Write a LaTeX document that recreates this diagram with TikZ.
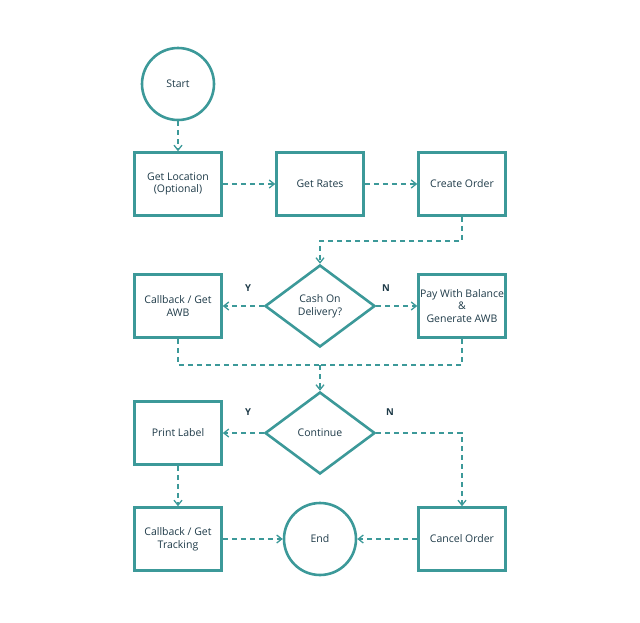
\documentclass[tikz,border=0pt]{standalone}
\usepackage{fontspec}
\setmainfont{Open Sans}
\usepackage{tikz}
\usetikzlibrary{arrows.meta,shapes.geometric}
\definecolor{teal1}{HTML}{3C9999}
\definecolor{ink}{HTML}{1E3A48}
\begin{document}
\begin{tikzpicture}[x=1pt,y=-1pt,thick,
                      box/.style={draw=teal1,line width=2.6pt,minimum width=87pt,minimum height=63pt,inner sep=1pt,align=center,font=\fontsize{10.5}{12.8}\selectfont,text=ink},
                      term/.style={circle,draw=teal1,line width=2.6pt,minimum size=72pt,font=\fontsize{10.5}{12.8}\selectfont,text=ink},
                      dec/.style={diamond,draw=teal1,line width=2.6pt,minimum width=110pt,minimum height=82pt,aspect=1.34,inner sep=0pt,align=center,font=\fontsize{10.5}{12.8}\selectfont,text=ink},
                      flow/.style={draw=teal1,line width=1.3pt,dash pattern=on 5pt off 4pt,-{Straight Barb[length=5pt,width=8pt]}},
                      lbl/.style={font=\fontsize{9.5}{11}\selectfont\bfseries,text=ink}]
    \useasboundingbox (0,0) rectangle (640,622);

    \node[term] (start) at (178,84) {Start};
    \node[box] (loc) at (178,184) {Get Location\\(Optional)};
    \node[box] (rates) at (320,184) {Get Rates};
    \node[box] (order) at (462,184) {Create Order};
    \node[box] (awb) at (178,306) {Callback / Get\\AWB};
    \node[dec] (cod) at (320,306) {Cash On\\Delivery?};
    \node[box] (pay) at (462,306) {Pay With Balance\\\&\\Generate AWB};
    \node[box] (print) at (178,433) {Print Label};
    \node[dec] (cont) at (320,433) {Continue};
    \node[box] (track) at (178,539) {Callback / Get\\Tracking};
    \node[term] (end) at (320,539) {End};
    \node[box] (cancel) at (462,539) {Cancel Order};
    \coordinate (m1) at (320,241);
    \coordinate (m2) at (320,365);

    \draw[flow] (start) -- (loc);
    \draw[flow] (loc) -- (rates);
    \draw[flow] (rates) -- (order);
    \draw[flow] (order.south) |- (m1) -- (cod.north);
    \draw[flow] (cod) -- (awb);
    \draw[flow] (cod) -- (pay);
    \draw[flow,-] (awb.south) |- (m2);
    \draw[flow,-] (pay.south) |- (m2);
    \draw[flow] (m2) -- (cont.north);
    \draw[flow] (cont) -- (print);
    \draw[flow] (cont.east) -| (cancel.north);
    \draw[flow] (print) -- (track);
    \draw[flow] (track) -- (end);
    \draw[flow] (cancel) -- (end);

    \node[lbl] at (248,288) {Y};
    \node[lbl] at (386,288) {N};
    \node[lbl] at (248,412) {Y};
    \node[lbl] at (390,412) {N};
\end{tikzpicture}
\end{document}
